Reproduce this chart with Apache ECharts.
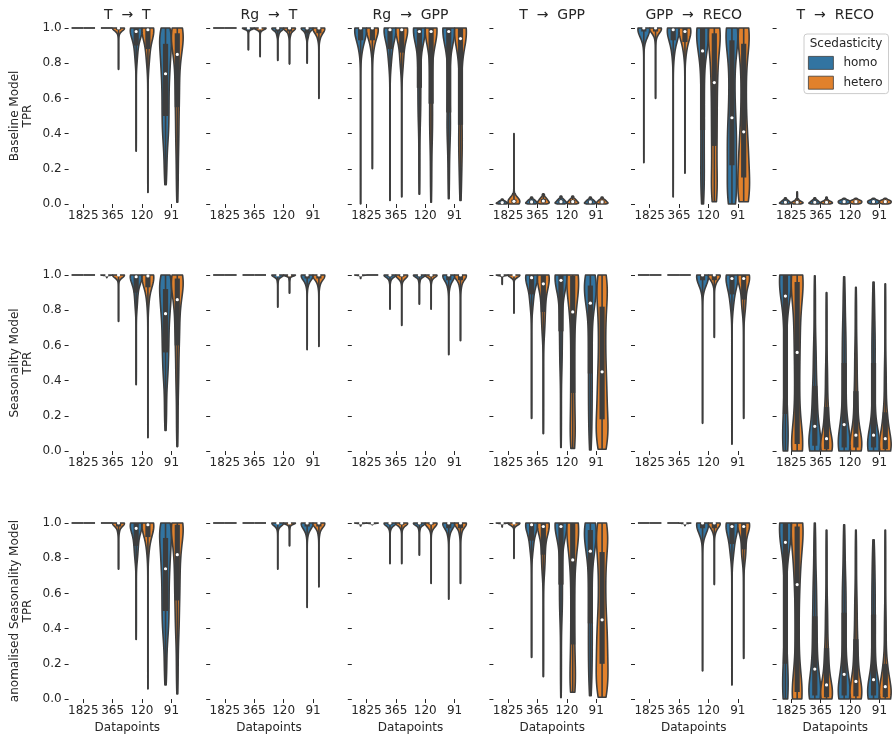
<!DOCTYPE html>
<html><head><meta charset="utf-8">
<script src="https://cdn.jsdelivr.net/npm/echarts@6/dist/echarts.min.js"></script>
<style>html,body{margin:0;padding:0;background:#fff}#c{width:892px;height:736px}</style>
</head><body><div id="c"></div>
<script>
// ---------------- data ----------------
const categories = ['1825', '365', '120', '91'];
const panelTitles = ['T  →  T', 'Rg  →  T', 'Rg  →  GPP', 'T  →  GPP', 'GPP  →  RECO', 'T  →  RECO'];
const rowLabels = ['Baseline Model\nTPR', 'Seasonality Model\nTPR', 'anomalised Seasonality Model\nTPR'];
const hues = ['homo', 'hetero'];
const xTitle = 'Datapoints';
const legendTitle = 'Scedasticity';
// each violin: TPR quantiles [min, p10, q1, median, q3, p90, max]; panels in title order, violins in category order
const baselineHomo = [
  [[1,1,1,1,1,1,1],[1,1,1,1,1,1,1],[0.30,0.80,0.90,0.98,1,1,1],[0.11,0.35,0.50,0.74,0.91,0.98,1]],
  [[1,1,1,1,1,1,1],[0.875,0.98,1,1,1,1,1],[0.815,0.95,0.98,1,1,1,1],[0.80,0.94,0.97,1,1,1,1]],
  [[0.0,0.86,0.93,1,1,1,1],[0.02,0.78,0.88,0.99,1,1,1],[0.055,0.45,0.66,0.98,1,1,1],[0.03,0.35,0.52,0.98,1,1,1]],
  [[0,0.0014,0.0038,0.008,0.014,0.019,0.028],[0,0.002,0.0054,0.0117,0.02,0.027,0.04],[0,0.0023,0.006,0.013,0.0225,0.031,0.045],[0,0.002,0.0054,0.0117,0.02,0.027,0.04]],
  [[0.235,0.93,0.98,1,1,1,1],[0.04,0.83,0.93,0.99,1,1,1],[0,0.15,0.42,0.87,1,1,1],[0,0.03,0.22,0.49,0.93,1,1]],
  [[0,0.0018,0.0047,0.010,0.0175,0.024,0.035],[0,0.0018,0.0047,0.010,0.0175,0.024,0.035],[0,0.003,0.007,0.013,0.019,0.024,0.032],[0,0.003,0.007,0.013,0.019,0.024,0.032]]
];
const baselineHetero = [
  [[1,1,1,1,1,1,1],[0.765,0.96,0.99,1,1,1,1],[0.065,0.78,0.88,0.99,1,1,1],[0.01,0.30,0.55,0.85,0.97,1,1]],
  [[1,1,1,1,1,1,1],[0.837,0.98,1,1,1,1,1],[0.795,0.95,0.98,1,1,1,1],[0.60,0.93,0.97,1,1,1,1]],
  [[0.20,0.86,0.93,1,1,1,1],[0.04,0.76,0.86,0.99,1,1,1],[0.01,0.35,0.57,0.98,1,1,1],[0.02,0.25,0.45,0.94,1,1,1]],
  [[0,0.0025,0.007,0.015,0.025,0.04,0.40],[0,0.003,0.008,0.017,0.029,0.04,0.058],[0,0.0023,0.006,0.013,0.0225,0.031,0.045],[0,0.002,0.0054,0.0117,0.02,0.027,0.04]],
  [[0.60,0.94,0.98,1,1,1,1],[0.175,0.84,0.92,0.98,1,1,1],[0.013,0.08,0.33,0.69,0.97,1,1],[0.013,0.03,0.15,0.41,0.91,1,1]],
  [[0,0.002,0.005,0.01,0.018,0.03,0.07],[0,0.002,0.005,0.01,0.016,0.024,0.04],[0,0.003,0.007,0.013,0.019,0.024,0.032],[0,0.003,0.007,0.013,0.019,0.024,0.032]]
];
const seasonHomo = [
  [[1,1,1,1,1,1,1],[0.985,1,1,1,1,1,1],[0.377,0.80,0.90,0.99,1,1,1],[0.117,0.40,0.56,0.78,0.92,0.99,1]],
  [[1,1,1,1,1,1,1],[1,1,1,1,1,1,1],[0.817,0.96,1,1,1,1,1],[0.575,0.93,0.98,1,1,1,1]],
  [[0.98,1,1,1,1,1,1],[0.806,0.96,0.99,1,1,1,1],[0.834,0.96,0.99,1,1,1,1],[0.547,0.92,0.97,1,1,1,1]],
  [[0.947,0.99,1,1,1,1,1],[0.185,0.80,0.89,0.985,1,1,1],[0.02,0.45,0.68,0.97,1,1,1],[0.006,0.20,0.44,0.84,0.94,1,1]],
  [[1,1,1,1,1,1,1],[1,1,1,1,1,1,1],[0.157,0.93,0.97,1,1,1,1],[0.038,0.80,0.89,0.98,1,1,1]],
  [[0,0.03,0.21,0.88,1,1,1],[0,0.005,0.03,0.14,0.37,0.62,0.995],[0,0.005,0.02,0.15,0.50,0.72,0.99],[0,0.005,0.02,0.09,0.50,0.72,0.96]]
];
const seasonHetero = [
  [[1,1,1,1,1,1,1],[0.736,0.97,1,1,1,1,1],[0.075,0.82,0.93,0.995,1,1,1],[0.025,0.35,0.60,0.86,0.98,1,1]],
  [[1,1,1,1,1,1,1],[1,1,1,1,1,1,1],[0.896,0.97,1,1,1,1,1],[0.594,0.93,0.98,1,1,1,1]],
  [[1,1,1,1,1,1,1],[0.713,0.96,0.99,1,1,1,1],[0.806,0.96,0.99,1,1,1,1],[0.626,0.92,0.97,1,1,1,1]],
  [[0.783,0.98,1,1,1,1,1],[0.098,0.65,0.79,0.95,1,1,1],[0.015,0.08,0.33,0.79,0.995,1,1],[0.01,0.06,0.18,0.45,0.82,0.97,1]],
  [[1,1,1,1,1,1,1],[1,1,1,1,1,1,1],[0.645,0.94,0.97,1,1,1,1],[0.185,0.78,0.86,0.98,1,1,1]],
  [[0,0.005,0.04,0.56,0.96,1,1],[0,0.002,0.01,0.07,0.25,0.5,0.90],[0,0.002,0.02,0.09,0.34,0.6,0.93],[0,0.002,0.01,0.07,0.22,0.5,0.95]]
];
const anomHomo = [
  [[1,1,1,1,1,1,1],[1,1,1,1,1,1,1],[0.338,0.78,0.87,0.97,1,1,1],[0.08,0.35,0.50,0.74,0.915,0.99,1]],
  [[1,1,1,1,1,1,1],[1,1,1,1,1,1,1],[0.737,0.96,1,1,1,1,1],[0.52,0.93,0.98,1,1,1,1]],
  [[0.983,1,1,1,1,1,1],[0.769,0.96,0.99,1,1,1,1],[0.817,0.96,0.99,1,1,1,1],[0.567,0.92,0.97,1,1,1,1]],
  [[0.977,1,1,1,1,1,1],[0.236,0.82,0.90,0.99,1,1,1],[0.008,0.45,0.65,0.98,1,1,1],[0.019,0.20,0.43,0.84,0.96,1,1]],
  [[1,1,1,1,1,1,1],[1,1,1,1,1,1,1],[0.159,0.93,0.97,1,1,1,1],[0.079,0.80,0.88,0.98,1,1,1]],
  [[0,0.03,0.20,0.89,1,1,1],[0,0.005,0.02,0.17,0.47,0.7,1.0],[0,0.005,0.02,0.14,0.49,0.7,0.99],[0,0.005,0.02,0.11,0.48,0.7,0.905]]
];
const anomHetero = [
  [[1,1,1,1,1,1,1],[0.737,0.94,0.98,1,1,1,1],[0.057,0.82,0.92,0.99,1,1,1],[0.028,0.35,0.56,0.82,0.99,1,1]],
  [[1,1,1,1,1,1,1],[1,1,1,1,1,1,1],[0.87,0.97,1,1,1,1,1],[0.637,0.93,0.98,1,1,1,1]],
  [[0.99,1,1,1,1,1,1],[0.769,0.96,0.99,1,1,1,1],[0.656,0.95,0.99,1,1,1,1],[0.656,0.92,0.97,1,1,1,1]],
  [[0.798,0.98,1,1,1,1,1],[0.127,0.70,0.82,0.98,1,1,1],[0.038,0.08,0.31,0.79,1,1,1],[0.01,0.06,0.20,0.45,0.835,0.97,1]],
  [[1,1,1,1,1,1,1],[0.985,1,1,1,1,1,1],[0.65,0.94,0.97,1,1,1,1],[0.23,0.78,0.85,0.98,1,1,1]],
  [[0,0.005,0.04,0.65,0.98,1,1],[0,0.002,0.01,0.08,0.29,0.55,0.96],[0,0.002,0.015,0.10,0.34,0.6,0.96],[0,0.002,0.01,0.07,0.20,0.5,0.96]]
];
const quantileMass = [0.1, 0.15, 0.25, 0.25, 0.15, 0.1];

// ---------------- style ----------------
const FONT = 'DejaVu Sans';
const TXT = '#262626';
const GRAY = '#3d3d3d';
const COLORS = ['#3274A1', '#E1812C'];
const rows = [[baselineHomo, baselineHetero], [seasonHomo, seasonHetero], [anomHomo, anomHetero]];
const rowTops = [28, 275, 523];
const panelH = 176, panelW = 117.5, colLeft0 = 68.6, colStep = 141.6;

function erf(x){const s=x<0?-1:1;x=Math.abs(x);const t=1/(1+0.3275911*x);
  const y=1-(((((1.061405429*t-1.453152027)*t)+1.421413741)*t-0.284496736)*t+0.254829592)*t*Math.exp(-x*x);return s*y;}
const Phi = z => 0.5*(1+erf(z/Math.SQRT2));
const phi = z => Math.exp(-0.5*z*z)/Math.sqrt(2*Math.PI);

function makeRender(hue){
  return function(params, api){
    const cat = api.value(0);
    const q = [];
    for (let i = 2; i < 9; i++) q.push(api.value(i));
    const band = api.size([1, 0])[0];
    const cx = api.coord([cat, 0])[0] + (hue === 0 ? -0.2 : 0.2) * band;
    const hw = 0.2 * band;
    const Y = v => api.coord([cat, v])[1];
    if (q[6] - q[0] < 1e-9) {
      return {type:'line', shape:{x1:cx-hw, y1:Y(q[0]), x2:cx+hw, y2:Y(q[0])},
        style:{stroke:GRAY, lineWidth:1.8}};
    }
    let mean = 0, e2 = 0;
    for (let i = 0; i < 6; i++) {
      const a = q[i], b = q[i+1], m = quantileMass[i];
      mean += m*(a+b)/2; e2 += m*(a*a+a*b+b*b)/3;
    }
    const sd = Math.sqrt(Math.max(e2 - mean*mean, 0));
    const h = Math.max(0.3*sd, 0.002);
    const N = 140, ys = [], ds = [];
    let dmax = 0;
    for (let k = 0; k <= N; k++) {
      const y = q[0] + (q[6]-q[0])*k/N;
      let d = 0;
      for (let i = 0; i < 6; i++) {
        const a = q[i], b = q[i+1], m = quantileMass[i];
        if (b - a < 1e-9) d += m*phi((y-a)/h)/h;
        else d += m/(b-a)*(Phi((y-a)/h) - Phi((y-b)/h));
      }
      ys.push(y); ds.push(d); if (d > dmax) dmax = d;
    }
    const pts = [];
    for (let k = 0; k <= N; k++) pts.push([cx - hw*ds[k]/dmax, Y(ys[k])]);
    for (let k = N; k >= 0; k--) pts.push([cx + hw*ds[k]/dmax, Y(ys[k])]);
    const children = [
      {type:'polygon', shape:{points:pts}, style:{fill:COLORS[hue], stroke:GRAY, lineWidth:1.6, lineJoin:'round'}},
      {type:'line', shape:{x1:cx, y1:Y(q[0]), x2:cx, y2:Y(q[6])}, style:{stroke:GRAY, lineWidth:1.6}}
    ];
    if (q[4] - q[2] > 1e-9) {
      children.push({type:'line', shape:{x1:cx, y1:Y(q[2]), x2:cx, y2:Y(q[4])}, style:{stroke:GRAY, lineWidth:5.2, lineCap:'butt'}});
    }
    children.push({type:'circle', shape:{cx:cx, cy:Y(q[3]), r:1.6}, style:{fill:'#ffffff'}});
    return {type:'group', children};
  };
}

const grid = [], xAxis = [], yAxis = [], series = [], graphic = [];
for (let r = 0; r < 3; r++) {
  for (let c = 0; c < 6; c++) {
    const idx = r*6 + c;
    grid.push({left: colLeft0 + colStep*c, top: rowTops[r], width: panelW, height: panelH,
      containLabel:false, outerBoundsMode:'none'});
    xAxis.push({type:'category', gridIndex: idx, data: categories,
      axisLine:{show:false}, splitLine:{show:false},
      axisTick:{show:true, alignWithLabel:true, length:4, lineStyle:{color:TXT, width:1}},
      axisLabel:{interval:0, fontSize:12, fontFamily:FONT, color:TXT, margin:6},
      name: r === 2 ? xTitle : '', nameLocation:'middle', nameGap:23,
      nameTextStyle:{fontSize:12, fontFamily:FONT, color:TXT}});
    yAxis.push({type:'value', gridIndex: idx, min:0, max:1, interval:0.2,
      axisLine:{show:false}, splitLine:{show:false},
      axisTick:{show:true, length:4, lineStyle:{color:TXT, width:1}},
      axisLabel:{show: c === 0, fontSize:12, fontFamily:FONT, color:TXT, margin:7,
        formatter: v => v.toFixed(1)}});
    for (let hIdx = 0; hIdx < 2; hIdx++) {
      const panel = rows[r][hIdx][c];
      series.push({type:'custom', name: hues[hIdx], xAxisIndex: idx, yAxisIndex: idx,
        renderItem: makeRender(hIdx), silent:true, animation:false,
        itemStyle:{color: COLORS[hIdx]},
        encode:{x:0, y:5},
        data: panel.map((qs, ci) => [ci, hIdx].concat(qs))});
    }
  }
  graphic.push({type:'text', x:21.5, y: rowTops[r] + panelH/2, rotation: Math.PI/2, z:100,
    style:{text: rowLabels[r], font: '12px "DejaVu Sans"', fill: TXT, align:'center', verticalAlign:'middle',
      textAlign:'center', textVerticalAlign:'middle', lineHeight:13}});
}
for (let c = 0; c < 6; c++) {
  graphic.push({type:'text', x: colLeft0 + colStep*c + panelW/2, y: 15, z:100,
    style:{text: panelTitles[c], font:'14px "DejaVu Sans"', fill: TXT, align:'center', verticalAlign:'middle',
      textAlign:'center', textVerticalAlign:'middle'}});
}
graphic.push({type:'text', x: 846, y: 44, z:100,
  style:{text: legendTitle, font:'12px "DejaVu Sans"', fill: TXT, align:'center', verticalAlign:'middle',
    textAlign:'center', textVerticalAlign:'middle'}});

const option = {
  animation:false,
  backgroundColor:'#ffffff',
  grid, xAxis, yAxis, series, graphic,
  legend:{
    data: hues.map((h, i) => ({name:h, itemStyle:{color:COLORS[i], borderColor:GRAY, borderWidth:0.8}})),
    orient:'vertical', left:804, top:34, icon:'rect',
    itemWidth:25, itemHeight:13, itemGap:6,
    padding:[22, 6, 4, 4],
    textStyle:{fontSize:12, fontFamily:FONT, color:TXT, padding:[0,0,0,5]},
    backgroundColor:'rgba(255,255,255,0.8)', borderColor:'#cccccc', borderWidth:1, borderRadius:3,
    selectedMode:false
  }
};
const chart = echarts.init(document.getElementById('c'), null, {renderer:'canvas', width:892, height:736});
chart.setOption(option);
</script>
</body></html>
